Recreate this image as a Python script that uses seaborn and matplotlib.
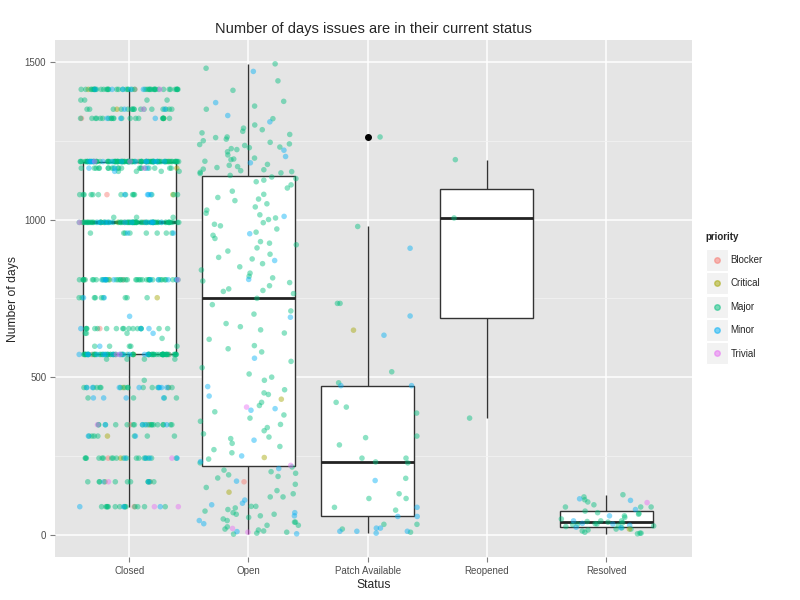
import numpy as np
import pandas as pd
import matplotlib
matplotlib.use("Agg")
import matplotlib.pyplot as plt
from matplotlib.lines import Line2D
from matplotlib.legend_handler import HandlerTuple
import seaborn as sns

statuses = ["Closed", "Open", "Patch Available", "Reopened", "Resolved"]
priorities = ["Blocker", "Critical", "Major", "Minor", "Trivial"]
priority_colors = ["#F8766D", "#A3A500", "#00BF7D", "#00B0F6", "#E76BF3"]

# Closed issues sit on discrete day values: value + count per priority
closed_days = [89, 168, 243, 313, 349, 434, 467, 490, 557, 572, 598, 623, 639, 654,
               693, 752, 809, 957, 991, 1007, 1079, 1153, 1163, 1184, 1321, 1350, 1379, 1413]
closed_major = [14, 10, 18, 7, 18, 4, 15, 1, 4, 62, 5, 1, 3, 16,
                0, 9, 38, 8, 72, 3, 14, 4, 20, 90, 20, 16, 4, 42]
closed_minor = [3, 2, 4, 2, 4, 4, 8, 0, 0, 12, 1, 0, 1, 3,
                1, 2, 8, 2, 12, 0, 4, 1, 3, 14, 3, 2, 0, 5]
closed_blocker = [1, 1, 1, 0, 1, 0, 1, 0, 0, 2, 0, 0, 0, 1,
                  0, 0, 2, 0, 3, 0, 1, 0, 0, 2, 1, 0, 0, 1]
closed_critical = [0, 1, 1, 1, 1, 0, 1, 0, 0, 2, 0, 0, 0, 0,
                   0, 1, 1, 0, 2, 0, 1, 0, 1, 2, 1, 1, 0, 1]
closed_trivial = [2, 1, 1, 0, 1, 0, 0, 0, 0, 2, 0, 0, 0, 0,
                  0, 0, 1, 0, 1, 0, 0, 0, 1, 2, 0, 1, 0, 1]

open_major = [1494, 1480, 1440, 1410, 1375, 1360, 1350, 1320, 1300, 1290, 1285, 1280, 1275,
              1270, 1262, 1255, 1250, 1245, 1240, 1235, 1230, 1225, 1222, 1215, 1205, 1195,
              1190, 1185, 1175, 1172, 1168, 1165, 1160, 1158, 1155, 1152, 1150, 1148, 1146,
              1260, 1238, 1228, 1192,
              1140, 1130, 1120, 1110, 1100, 1090, 1080, 1070, 1060, 1050, 1040, 1030, 1020,
              1005, 1000, 990, 980, 970, 960, 950, 940, 930, 920, 910, 900, 890, 880, 860,
              850, 840, 830, 820, 800, 790, 780, 775, 772, 1125, 1065, 1015, 985, 925, 875,
              815, 805, 1135,
              765, 750, 730, 710, 700, 670, 650, 640, 620, 600, 580, 550, 530, 510, 500, 490,
              460, 450, 420, 410, 390, 380, 370, 360, 350, 340, 330, 320, 310, 290, 280, 270,
              260, 240, 228, 305, 445, 660, 590,
              215, 200, 195, 190, 180, 160, 150, 140, 130, 120, 90, 85, 80, 75, 65, 55, 50,
              40, 30, 25, 15, 8, 5, 2, 120, 90, 60, 65, 45, 30, 18, 12, 205, 185, 70, 40]
open_minor = [1371, 1310, 1220, 1200, 1180, 1470, 1330, 1010, 870, 955, 810,
              690, 560, 470, 440, 400, 395, 300, 250, 232,
              210, 170, 110, 100, 95, 70, 60, 45, 35, 10, 3]
open_trivial = [405, 220, 20, 8]
open_critical = [430, 245, 135]
open_blocker = [168]

patch_major = [1262, 978, 734, 734, 517, 482, 420, 405, 386, 313, 308, 285, 243, 243,
               231, 228, 179, 130, 115, 115, 87, 78, 33, 33, 18, 8]
patch_minor = [909, 694, 633, 473, 473, 172, 87, 58, 58, 21, 21, 11, 11, 11, 5]
patch_critical = [649]

reopened_major = [370, 1005, 1190]

resolved_major = [127, 111, 104, 88, 88, 88, 70, 68, 65, 60, 50, 44, 44, 42, 40, 38, 35, 34,
                  34, 32, 30, 28, 26, 22, 18, 18, 15, 12, 8, 5, 5, 3, 120, 95, 75, 55]
resolved_minor = [114, 109, 80, 60, 44, 36, 34, 30, 24, 22]
resolved_trivial = [102]
resolved_critical = [18]

rows = []
for prio, counts in zip(priorities, [closed_blocker, closed_critical, closed_major,
                                     closed_minor, closed_trivial]):
    for d in np.repeat(closed_days, counts):
        rows.append(("Closed", d, prio))
groups = [
    ("Open", "Major", open_major), ("Open", "Minor", open_minor),
    ("Open", "Trivial", open_trivial), ("Open", "Critical", open_critical),
    ("Open", "Blocker", open_blocker),
    ("Patch Available", "Major", patch_major), ("Patch Available", "Minor", patch_minor),
    ("Patch Available", "Critical", patch_critical),
    ("Reopened", "Major", reopened_major),
    ("Resolved", "Major", resolved_major), ("Resolved", "Minor", resolved_minor),
    ("Resolved", "Trivial", resolved_trivial), ("Resolved", "Critical", resolved_critical),
]
for status, prio, vals in groups:
    for d in vals:
        rows.append((status, d, prio))
df = pd.DataFrame(rows, columns=["status", "days", "priority"])

sns.set_style("darkgrid", {"axes.facecolor": "#E5E5E5", "grid.color": "white"})
plt.rcParams["font.family"] = ["Liberation Sans", "DejaVu Sans"]

fig = plt.figure(figsize=(8, 6), dpi=100)
ax = fig.add_axes([0.069, 0.072, 0.796, 0.861])

sns.boxplot(data=df, x="status", y="days", order=statuses, ax=ax,
            color="white", linecolor="#333333", linewidth=1, width=0.78,
            showcaps=False, whis=1.5,
            medianprops=dict(linewidth=2, color="#222222"),
            flierprops=dict(marker="o", markerfacecolor="black",
                            markeredgecolor="black", markersize=4))

np.random.seed(3)
sns.stripplot(data=df, x="status", y="days", order=statuses, hue="priority",
              hue_order=priorities, palette=priority_colors, alpha=0.45, size=4,
              linewidth=0, jitter=0.42, ax=ax, legend=False, zorder=3)

ax.set_xlim(-0.62, 4.72)
ax.set_ylim(-70, 1569)
ax.set_yticks([0, 500, 1000, 1500])
ax.set_yticks([250, 750, 1250], minor=True)
ax.grid(True, which="major", color="white", linewidth=1.1)
ax.grid(True, which="minor", color="#F2F2F2", linewidth=0.6)
ax.set_axisbelow(True)
for s in ax.spines.values():
    s.set_visible(False)
ax.tick_params(axis="both", which="major", length=3.5, width=0.8, color="#7F7F7F",
               labelcolor="#4D4D4D", labelsize=7, pad=3, bottom=True, left=True)
ax.tick_params(axis="both", which="minor", length=0)

ax.set_title("Number of days issues are in their current status", fontsize=10.5, pad=5)
ax.set_xlabel("Status", fontsize=8.7, labelpad=2)
ax.set_ylabel("Number of days", fontsize=8.7, labelpad=4)

# legend keys: grey square behind a small coloured dot
handles = [(Line2D([], [], marker="s", ms=15.5, color="#F2F2F2", ls="",
                   markeredgecolor="white", markeredgewidth=0.8),
            Line2D([], [], marker="o", ms=4, color=c, alpha=0.5, ls=""))
           for c in priority_colors]
leg = fig.legend(handles, priorities, title="priority", loc="center left",
                 bbox_to_anchor=(0.8775, 0.508), frameon=False, fontsize=7,
                 handler_map={tuple: HandlerTuple(ndivide=1)},
                 handlelength=2.2, handleheight=0.7, labelspacing=1.38,
                 handletextpad=0.35, borderaxespad=0)
leg.get_title().set_fontweight("bold")
leg.get_title().set_fontsize(7)
leg._legend_box.align = "left"

fig.savefig("out.png", dpi=100)
